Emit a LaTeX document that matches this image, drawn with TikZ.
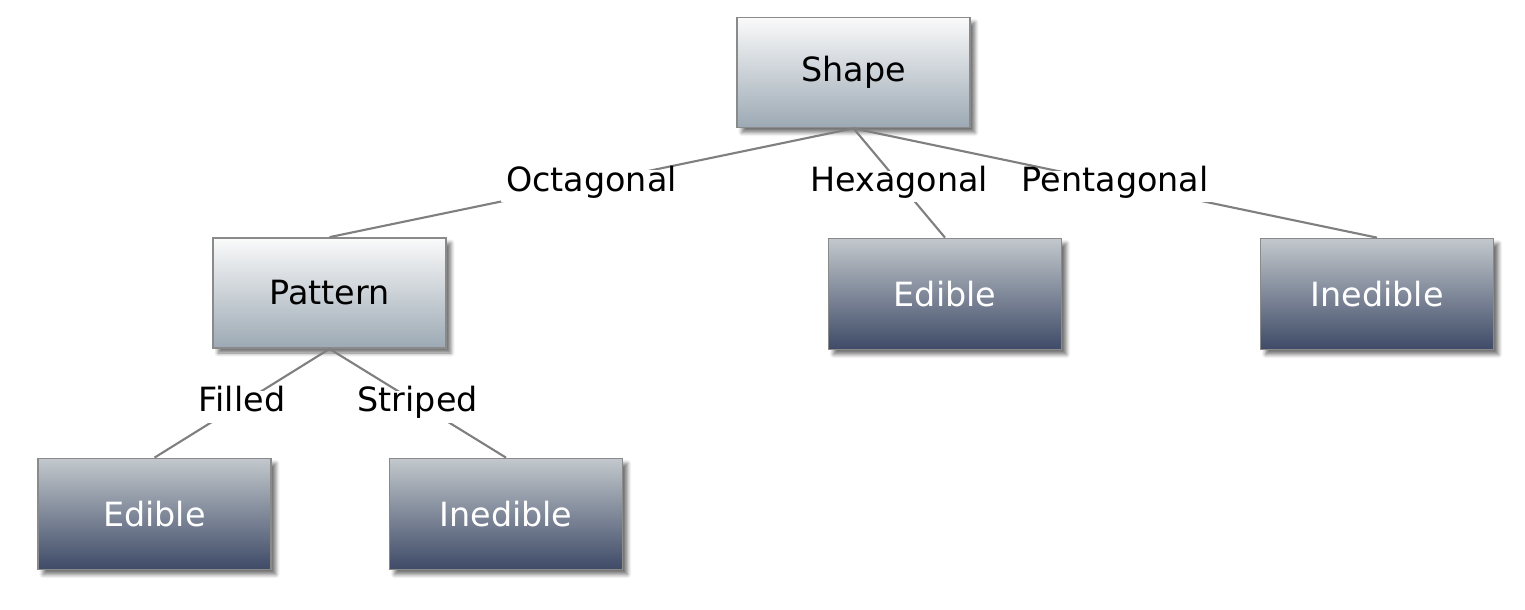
\documentclass[tikz,border=0pt]{standalone}
\usepackage{fontspec}
\setmainfont{DejaVu Sans}
\usetikzlibrary{shadows.blur}
\definecolor{paleTop}{HTML}{FAFAFA}
\definecolor{paleBottom}{HTML}{9CA9B4}
\definecolor{darkTop}{HTML}{C2C8CC}
\definecolor{darkBottom}{HTML}{3E4A67}
\definecolor{boxEdge}{HTML}{8A8A8A}
\definecolor{branchGray}{HTML}{7F7F7F}
\tikzset{choice/.style={fill=white,text=black,inner sep=3pt,text height=1.6ex,text depth=.6ex,yshift=-2pt}}
\def\attrnode{\node[draw=boxEdge,line width=1pt,top color=paleTop,bottom color=paleBottom,minimum width=4.66cm,minimum height=2.2cm,blur shadow={shadow xshift=.1cm,shadow yshift=-.1cm,shadow blur steps=6,shadow opacity=55}]}
\def\leafnode{\node[draw=boxEdge,line width=1pt,top color=darkTop,bottom color=darkBottom,text=white,minimum width=4.66cm,minimum height=2.22cm,blur shadow={shadow xshift=.1cm,shadow yshift=-.1cm,shadow blur steps=6,shadow opacity=55}]}
\def\drawbranch{\draw[color=branchGray, line width=1.2pt]}

\begin{document}
\begin{tikzpicture}[x=0.02cm,y=-0.02cm,font=\fontsize{19}{22}\selectfont]
\useasboundingbox (0,0) rectangle (1525,609);
\attrnode (shape) at (853.5,72.5) {Shape};
\attrnode (pattern) at (329.5,293) {Pattern};
\leafnode (hexa) at (945,294) {Edible};
\leafnode (penta) at (1377,294) {Inedible};
\leafnode (filled) at (154.5,514) {Edible};
\leafnode (striped) at (506,514) {Inedible};
\drawbranch (shape.south) to node[choice] {Octagonal} (pattern.north);
\drawbranch (shape.south) to node[choice] {Hexagonal} (hexa.north);
\drawbranch (shape.south) to node[choice] {Pentagonal} (penta.north);
\drawbranch (pattern.south) to node[choice] {Filled} (filled.north);
\drawbranch (pattern.south) to node[choice] {Striped} (striped.north);
\end{tikzpicture}
\end{document}
